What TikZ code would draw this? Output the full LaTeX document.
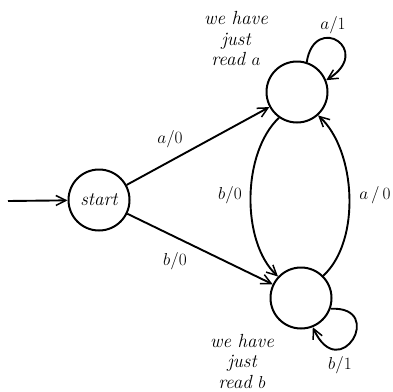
\documentclass[tikz,border=0pt]{standalone}
\usetikzlibrary{arrows.meta}
\begin{document}
\begin{tikzpicture}[x=1pt,y=-1pt,
  state/.style={circle,draw,line width=2pt,minimum size=61pt,inner sep=0pt},
  edge/.style={line width=1.9pt,-{Straight Barb[length=10pt,width=10pt,line width=1.5pt]}},
  lbl/.style={font=\fontsize{19}{22}\selectfont},
  note/.style={font=\fontsize{19}{20.5}\selectfont\itshape,align=center,inner sep=0pt}]
\useasboundingbox (0,0) rectangle (393,391);
\node[state] (s) at (99,200) {\itshape\fontsize{19}{20}\selectfont start};
\node[state] (t) at (297,92) {};
\node[state] (b) at (301,298) {};
\coordinate (in) at (8,201);
\draw[edge] (in) -- (s);
\draw[edge] (s) -- (t);
\draw[edge] (s) -- (b);
\draw[edge] (t.235) .. controls +(-37,35) and +(-37,-35) .. (b.137);
\draw[edge] (b.45) .. controls +(38,-35) and +(38,35) .. (t.-48);
\draw[edge] (t.72) .. controls +(8,-50) and +(48,-30) .. (t.22);
\draw[edge] (b.-20) .. controls +(56,-3) and +(27,59) .. (b.-68);
\node[lbl] (l1) at (170,139) {$a/0$};
\node[lbl] (l2) at (175,261) {$b/0$};
\node[lbl] (l3) at (230,195) {$b/0$};
\node[lbl] (l4) at (375,195) {$a\,/\,0$};
\node[lbl] (l5) at (333,25) {$a/1$};
\node[lbl] (l6) at (340,365) {$b/1$};
\node[note] (na) at (236,39) {we have\\just\\read $a$};
\node[note] (nb) at (242,361) {we have\\just\\read $b$};
\end{tikzpicture}
\end{document}
